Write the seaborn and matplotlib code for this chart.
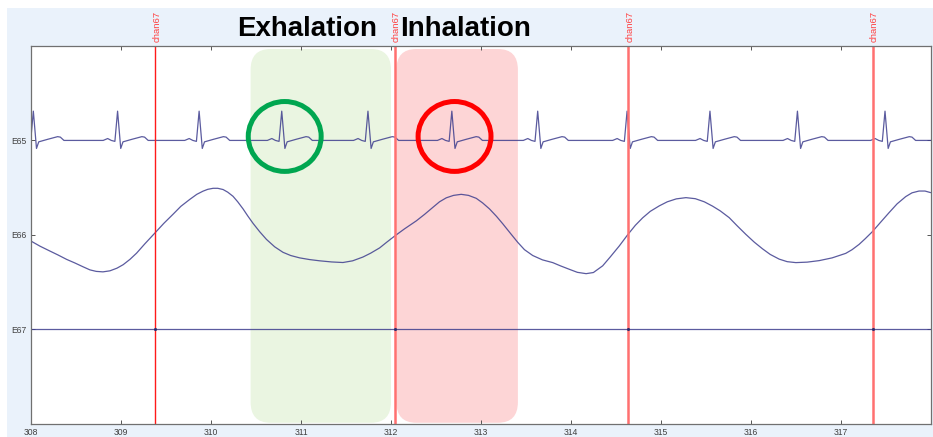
import matplotlib
matplotlib.use("Agg")
import matplotlib.pyplot as plt
from matplotlib.patches import FancyBboxPatch, Ellipse, Rectangle
import pandas as pd
import seaborn as sns

# Channel rows, top to bottom
channels = ["E65", "E66", "E67"]
channel_rows = [1, 2, 3]
x_ticks = [308, 309, 310, 311, 312, 313, 314, 315, 316, 317]

# chan67 event markers (s)
event_times = [309.38, 312.04, 314.63, 317.35]

# E65 (ECG): R-peak times and the shape of one beat (offset s, deflection)
beat_times = [308.026, 308.962, 309.868, 310.786, 311.744, 312.676,
              313.630, 314.623, 315.544, 316.516, 317.489]
beat_offsets = [-0.16, -0.11, -0.07, -0.03, 0.0, 0.035, 0.06, 0.16, 0.27, 0.30, 0.34]
beat_amps = [0.0, 0.02, 0.0, -0.01, 0.31, -0.085, -0.015, 0.012, 0.04, 0.035, 0.0]
ecg_tail_t = [318.0]
ecg_tail_v = [0.0]

# E66 (respiration): sampled trace (s, deflection)
resp_t = [308.000, 308.100, 308.211, 308.300, 308.396, 308.488, 308.580, 308.655,
          308.725, 308.799, 308.877, 308.955, 309.024, 309.099, 309.173, 309.265,
          309.380, 309.476, 309.579, 309.665, 309.765, 309.842, 309.912, 309.964,
          310.023, 310.075, 310.134, 310.186, 310.245, 310.297, 310.356, 310.408,
          310.467, 310.542, 310.616, 310.708, 310.800, 310.886, 310.986, 311.097,
          311.208, 311.341, 311.466, 311.574, 311.688, 311.774, 311.874, 311.951,
          312.040, 312.151, 312.281, 312.373, 312.465, 312.539, 312.614, 312.695,
          312.780, 312.861, 312.947, 313.017, 313.094, 313.172, 313.242, 313.327,
          313.408, 313.483, 313.575, 313.683, 313.797, 313.882, 313.982, 314.071,
          314.168, 314.249, 314.352, 314.437, 314.537, 314.629, 314.715, 314.796,
          314.881, 314.981, 315.070, 315.170, 315.277, 315.381, 315.481, 315.573,
          315.658, 315.758, 315.847, 315.943, 316.036, 316.128, 316.213, 316.313,
          316.402, 316.498, 316.624, 316.757, 316.901, 317.053, 317.123, 317.201,
          317.268, 317.349, 317.434, 317.534, 317.623, 317.719, 317.789, 317.867,
          317.933, 317.997]
resp_v = [-0.066, -0.120, -0.172, -0.213, -0.260, -0.298, -0.339, -0.371,
          -0.387, -0.392, -0.381, -0.353, -0.316, -0.260, -0.194, -0.095,
          0.023, 0.122, 0.219, 0.302, 0.376, 0.429, 0.463, 0.482,
          0.493, 0.493, 0.480, 0.452, 0.408, 0.350, 0.275, 0.201,
          0.122, 0.032, -0.048, -0.127, -0.185, -0.219, -0.244, -0.262,
          -0.275, -0.287, -0.293, -0.275, -0.235, -0.194, -0.138, -0.079,
          -0.013, 0.064, 0.148, 0.217, 0.291, 0.350, 0.392, 0.418,
          0.429, 0.418, 0.387, 0.339, 0.275, 0.196, 0.117, 0.016,
          -0.079, -0.157, -0.219, -0.265, -0.294, -0.328, -0.365, -0.397,
          -0.411, -0.399, -0.328, -0.233, -0.117, 0.000, 0.101, 0.180,
          0.249, 0.307, 0.350, 0.381, 0.394, 0.383, 0.350, 0.304,
          0.254, 0.182, 0.095, 0.005, -0.077, -0.148, -0.207, -0.257,
          -0.284, -0.294, -0.289, -0.273, -0.244, -0.196, -0.157, -0.101,
          -0.042, 0.034, 0.127, 0.235, 0.328, 0.405, 0.445, 0.464,
          0.464, 0.447]

# E67: flat channel
flat_t = [308.0, 318.0]
flat_v = [0.0, 0.0]

# Breathing phases (s) and the heartbeat highlighted in each
phase_names = ["Exhalation", "Inhalation"]
phase_spans = [(310.44, 312.00), (312.06, 313.41)]
phase_fill = ["#EAF5E1", "#FDD5D6"]
phase_ring = ["#00A650", "#FF0000"]
ring_beats = [310.819, 312.706]

sns.set_theme(style="white")
plt.rcParams["font.family"] = ["Liberation Sans", "DejaVu Sans"]

W, H = 933, 437
fig = plt.figure(figsize=(W / 100, H / 100), dpi=100)
fig.patch.set_facecolor("white")
fig.add_artist(Rectangle((7 / W, 0), 1 - 7 / W, 1 - 8 / H, transform=fig.transFigure,
                         facecolor="#EAF2FB", edgecolor="none", zorder=-10))
ax = fig.add_axes([31 / W, 13.3 / H, 900 / W, 377.7 / H])
ax.set_facecolor("white")

# Phase background boxes
for (x0, x1), col in zip(phase_spans, phase_fill):
    ax.add_patch(FancyBboxPatch((x0, 0.032), x1 - x0, 3.958,
                                boxstyle="round,pad=0,rounding_size=0.22",
                                facecolor=col, edgecolor="none", zorder=0.5))

# Build traces
ecg_t, ecg_y = [], []
for bt in beat_times:
    for off, amp in zip(beat_offsets, beat_amps):
        ecg_t.append(bt + off)
        ecg_y.append(channel_rows[0] - amp)
ecg_t += ecg_tail_t
ecg_y += [channel_rows[0] - v for v in ecg_tail_v]

traces = pd.concat([
    pd.DataFrame({"t": ecg_t, "y": ecg_y, "ch": channels[0]}),
    pd.DataFrame({"t": resp_t, "y": [channel_rows[1] - v for v in resp_v], "ch": channels[1]}),
    pd.DataFrame({"t": flat_t, "y": [channel_rows[2] - v for v in flat_v], "ch": channels[2]}),
], ignore_index=True)

trace_col = "#3e3e8e"
for ch in channels:
    sub = traces[traces["ch"] == ch]
    sns.lineplot(data=sub, x="t", y="y", ax=ax, color=trace_col, linewidth=0.9,
                 alpha=0.85, estimator=None, sort=False, zorder=2)

# Event markers
for i, t in enumerate(event_times):
    ax.axvline(t, color="#FF1A1A" if i == 0 else "#FF7070",
               linewidth=1.0 if i == 0 else 1.8, zorder=3)
    ax.annotate("chan67", xy=(t, 1), xycoords=ax.get_xaxis_transform(),
                xytext=(2, 4), textcoords="offset pixels", rotation=90,
                ha="center", va="bottom", fontsize=6.8, color="#FF4040",
                annotation_clip=False)
sns.scatterplot(x=event_times, y=[channel_rows[2]] * len(event_times), ax=ax,
                color="#2e2e70", s=5, linewidth=0, zorder=4)

# Rings around highlighted beats
for bx, col in zip(ring_beats, phase_ring):
    ax.add_patch(Ellipse((bx, 0.958), 0.81, 0.74, fill=False, edgecolor=col,
                         linewidth=3.6, zorder=6, clip_on=False))

# Phase titles
title_x = [237, 400]
for name, px in zip(phase_names, title_x):
    fig.text(px / W, (H - 36) / H, name, fontsize=20, fontweight="bold",
             color="black", ha="left", va="baseline")

ax.set_xlim(308, 318)
ax.set_ylim(4, 0)
ax.set_xticks(x_ticks)
ax.set_yticks(channel_rows)
ax.set_yticklabels(channels)
ax.set_xlabel("")
ax.set_ylabel("")
ax.tick_params(direction="in", length=3, width=0.7, top=True, right=True,
               bottom=True, left=True, labelsize=6.2, color="#555555",
               labelcolor="#404040", pad=3)
for s in ax.spines.values():
    s.set_color("#707070")
    s.set_linewidth(0.9)
    s.set_zorder(7)

fig.savefig("out.png", dpi=100, facecolor="white")
